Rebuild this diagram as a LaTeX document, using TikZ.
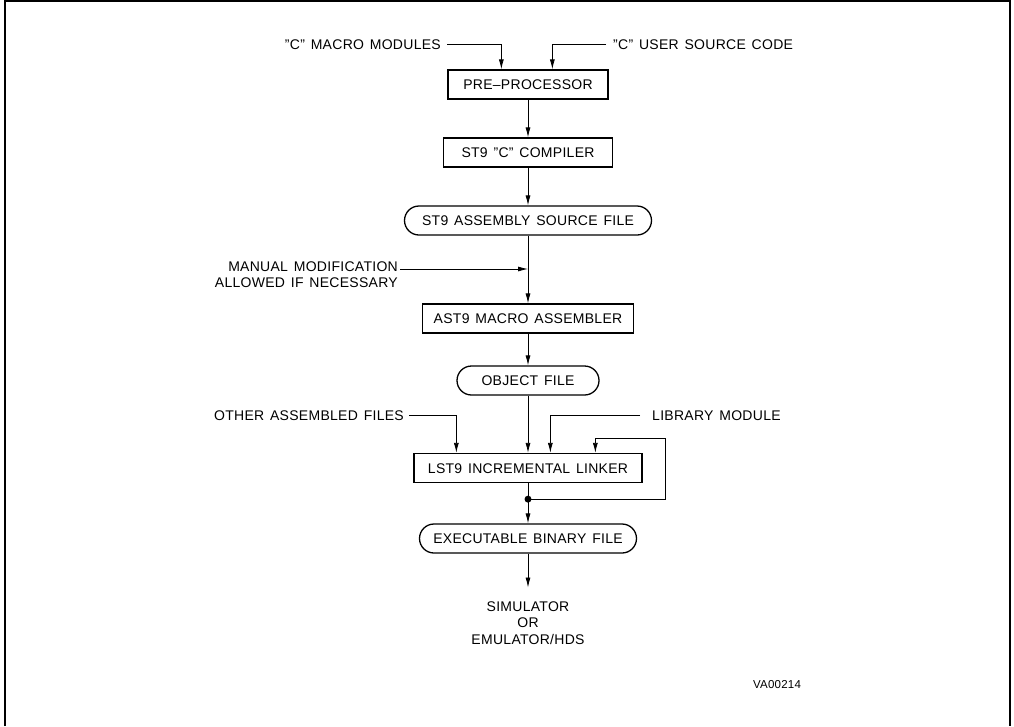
\documentclass[tikz,border=0pt]{standalone}
\usepackage{fontspec}
\setmainfont{Liberation Sans}[LetterSpace=2, WordSpace=1.4]
\usetikzlibrary{arrows.meta,calc}
\begin{document}
\begin{tikzpicture}[x=1pt,y=-1pt,
  txt/.style={font=\fontsize{14}{15.5}\selectfont},
  lbl/.style={txt, inner sep=0pt, text height=10pt, text depth=0pt},
  stepbox/.style={draw, line width=1.3pt, txt, minimum height=29pt, inner sep=0pt,
                  text height=10pt, text depth=0pt},
  filebox/.style={stepbox, rounded corners=14.5pt},
  flow/.style={line width=0.8pt, -{Latex[length=10pt,width=5pt]}},
  link/.style={line width=0.8pt},
]
\useasboundingbox (0,0) rectangle (1014,726);

% page frame
\draw[line width=1.6pt] (5,726) -- (5,1) -- (1010,1) -- (1010,726);

% processing chain
\node[stepbox, minimum width=160pt] (pre)  at (528,84.5)  {PRE--PROCESSOR};
\node[stepbox, minimum width=169pt] (comp) at (528,152.5) {ST9 "C" COMPILER};
\node[filebox, minimum width=247pt] (src)  at (528,220.5) {ST9 ASSEMBLY SOURCE FILE};
\node[stepbox, minimum width=211pt] (asm)  at (528,318.5) {AST9 MACRO ASSEMBLER};
\node[filebox, minimum width=142pt] (obj)  at (528,380.5) {OBJECT FILE};
\node[stepbox, minimum width=228pt] (lnk)  at (528,468)   {LST9 INCREMENTAL LINKER};
\node[filebox, minimum width=217pt] (exe)  at (528,538.5) {EXECUTABLE BINARY FILE};

% inputs of the pre-processor
\node[lbl, anchor=east] (cmac) at (441,44) {"C" MACRO MODULES};
\node[lbl, anchor=west] (cusr) at (613,44) {"C" USER SOURCE CODE};
\draw[flow, shorten <=6pt] (cmac.east) -| ($(pre.north west)+(54,0)$);
\draw[flow, shorten <=7pt] (cusr.west) -| ($(pre.north west)+(105,0)$);

% main flow
\draw[flow] (pre.south) -- (comp.north);
\draw[flow] (comp.south) -- (src.north);
\draw[flow] (src.south) -- (asm.north);
\draw[flow] (asm.south) -- (obj.north);
\draw[flow] (obj.south) -- (lnk.north);

% manual editing of the assembly source
\node[txt, inner sep=0pt, anchor=north east, align=right] (man) at (398,262)
  {MANUAL MODIFICATION\\ALLOWED IF NECESSARY};
\coordinate (manend) at ([shift={(2,7)}]man.north east);
\draw[flow] (manend) -- (manend -| src.south);

% linker inputs
\node[lbl, anchor=east] (oth) at (404,415) {OTHER ASSEMBLED FILES};
\node[lbl, anchor=west] (lib) at (652,415) {LIBRARY MODULE};
\draw[flow, shorten <=5pt]  (oth.east) -| ($(lnk.north west)+(43,0)$);
\draw[flow, shorten <=12pt] (lib.west) -| ($(lnk.north west)+(137,0)$);

% linker output with feedback loop
\node[circle, fill, inner sep=0pt, minimum size=7pt] (jn) at ($(lnk.south)+(0,16)$) {};
\draw[link] (lnk.south) -- (jn.center);
\draw[flow] (jn.center) -- (exe.north);
\draw[flow] (jn.center) -| ($(lnk.north west)+(252,-14)$) -| ($(lnk.north west)+(182,0)$);

% targets
\node[txt, inner sep=0pt, anchor=north, align=center] (out) at (528,601.5)
  {SIMULATOR\\[1pt]OR\\[1pt]EMULATOR/HDS};
\draw[flow, shorten >=14pt] (exe.south) -- (out.north);

% drawing reference
\node[font=\fontsize{11.5}{13}\selectfont, inner sep=0pt] (ref) at (777,685) {VA00214};
\end{tikzpicture}
\end{document}
